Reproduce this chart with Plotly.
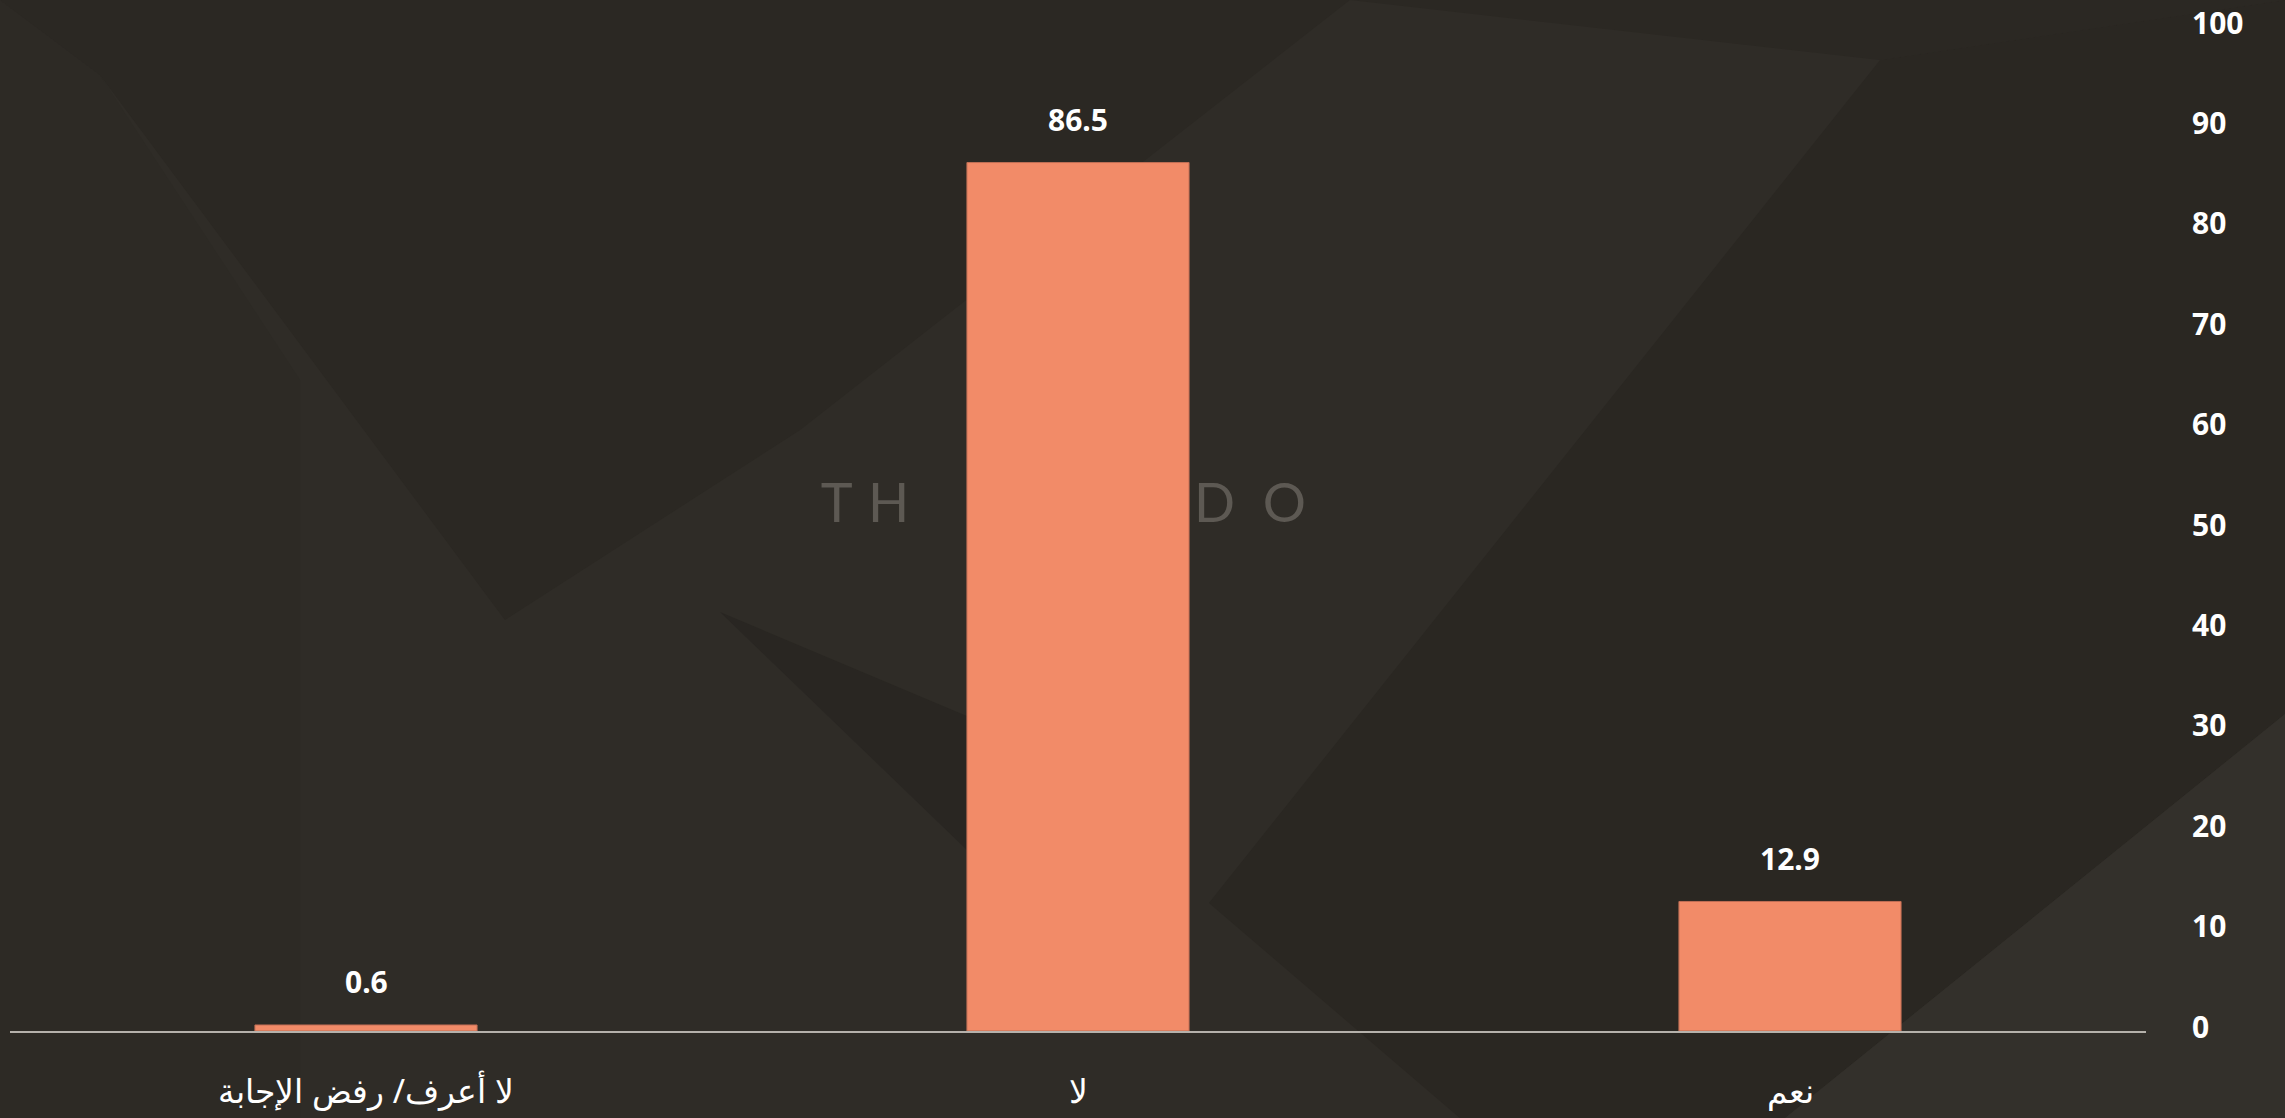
import plotly.graph_objects as go

# ---- data ----
categories = ["نعم", "لا", "لا أعرف/ رفض الإجابة"]
values = [12.9, 86.5, 0.6]
value_labels = ["12.9", "86.5", "0.6"]
y_ticks = [0, 10, 20, 30, 40, 50, 60, 70, 80, 90, 100]

W, H = 2285, 1118
L, R, T, B = 10, 139, 27, 87
PW, PH = W - L - R, H - T - B

def px(x, y):
    return (x - L) / PW, (H - B - y) / PH

def poly(points, color):
    pts = [px(x, y) for x, y in points]
    path = "M " + " L ".join(f"{a:.4f},{b:.4f}" for a, b in pts) + " Z"
    return dict(type="path", xref="paper", yref="paper", path=path,
                fillcolor=color, line=dict(width=0), layer="below")

BAR = "#f28b68"
TXT = "#ffffff"
FONT = "Noto Sans"

fig = go.Figure()
fig.add_trace(go.Bar(
    x=categories, y=values,
    marker=dict(color=BAR, line=dict(color="#c06f55", width=1)),
    width=0.312,
    hoverinfo="skip",
))

for c, v, t in zip(categories, values, value_labels):
    fig.add_annotation(x=c, y=v, text=t, showarrow=False, yanchor="middle",
                       yshift=43, font=dict(family=FONT, size=30, color=TXT, weight="bold"))

wm_font = dict(family="Lato", size=54, color="#5d5953")
shapes = [
    # subtle background geometry
    poly([(0, 0), (2285, 0), (2285, 1118), (0, 1118)], "#2f2c27"),
    poly([(0, 0), (0, 1118), (300, 1118), (300, 380), (100, 75)], "#2d2a25"),
    poly([(0, 0), (1350, 0), (800, 430), (505, 620), (100, 75)], "#2b2823"),
    poly([(1880, 60), (2285, 0), (2285, 714), (1785, 1118), (1460, 1118), (1209, 903)], "#2a2722"),
    poly([(1350, 0), (2285, 0), (1880, 60)], "#2b2823"),
    poly([(720, 612), (1000, 730), (1050, 930)], "#292622"),
    poly([(2285, 714), (2285, 1118), (1785, 1118)], "#33302b"),
    # watermark (drawn below the bars)
    dict(type="rect", xref="paper", yref="paper",
         x0=px(800, 0)[0], x1=px(930, 0)[0], y0=px(0, 540)[1], y1=px(0, 460)[1],
         line=dict(width=0), fillcolor="rgba(0,0,0,0)", layer="below",
         label=dict(text="T \u200aH", font=wm_font, textposition="middle center")),
    dict(type="rect", xref="paper", yref="paper",
         x0=px(1180, 0)[0], x1=px(1320, 0)[0], y0=px(0, 540)[1], y1=px(0, 460)[1],
         line=dict(width=0), fillcolor="rgba(0,0,0,0)", layer="below",
         label=dict(text="D  O", font=wm_font, textposition="middle center")),
]

fig.update_layout(
    width=W, height=H,
    margin=dict(l=L, r=R, t=T, b=B, pad=0),
    paper_bgcolor="#2d2a25", plot_bgcolor="rgba(0,0,0,0)",
    showlegend=False,
    shapes=shapes,
    xaxis=dict(
        type="category", autorange="reversed", automargin=False,
        showline=True, linecolor="#b5b1ab", linewidth=2,
        showgrid=False, zeroline=False, ticks="",
        tickfont=dict(family=FONT, size=33, color=TXT),
        ticklabelstandoff=30,
        fixedrange=True,
    ),
    yaxis=dict(
        side="right", range=[0, 100], tickvals=y_ticks, automargin=False,
        showgrid=False, zeroline=False, showline=False, ticks="",
        tickfont=dict(family=FONT, size=30, color=TXT, weight="bold"),
        ticklabelstandoff=45, ticklabelshift=-4,
        fixedrange=True,
    ),
)

fig.write_html(
    "out.html",
    config={"displayModeBar": False},
    post_script="document.body.style.margin='0';document.body.style.overflow='hidden';",
)
